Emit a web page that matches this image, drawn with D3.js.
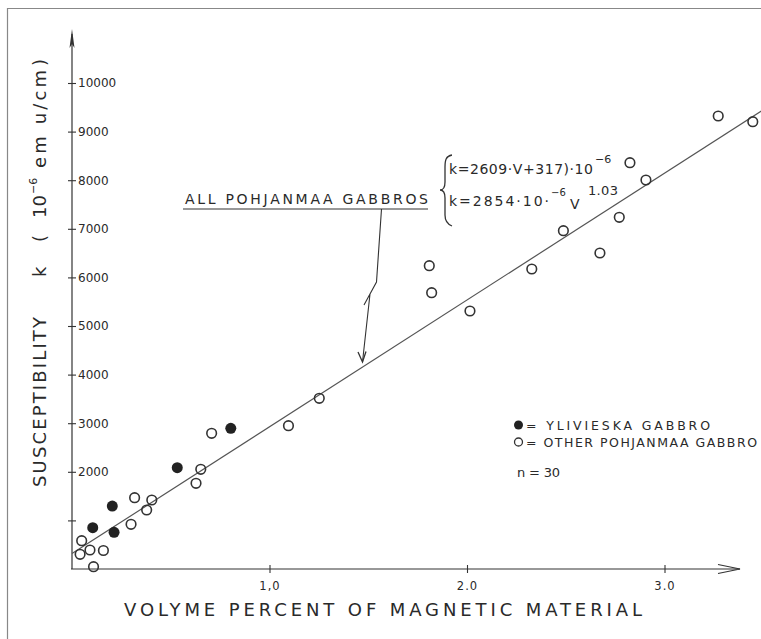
<!DOCTYPE html>
<html lang="en">
<head>
  <meta charset="UTF-8">
  <title>Susceptibility vs magnetic material</title>
  <style>
    body { margin: 0; background: #fff; }
    svg { display: block; font-family: 'DejaVu Sans', sans-serif; }
    .lbl { fill: #2a2a2a; }
  </style>
</head>
<body>
  <div id="chart"></div>
  <script src="https://cdn.jsdelivr.net/npm/d3@7"></script>
  <script>
    // data
    const ylivieskaV = [0.105, 0.204, 0.213, 0.533, 0.804];
    const ylivieskaK = [850, 1296, 755, 2084, 2895];

    const otherV = [0.049, 0.041, 0.091, 0.159, 0.109, 0.299, 0.317, 0.378, 0.404, 0.628,
                    0.652, 0.707, 1.096, 1.252, 1.809, 1.821, 2.015, 2.328, 2.488, 2.673,
                    2.771, 2.825, 2.906, 3.272, 3.447];
    const otherK = [582, 302, 391, 381, 47, 920, 1467, 1214, 1420, 1763,
                    2051, 2792, 2949, 3512, 6241, 5685, 5309, 6173, 6961, 6502,
                    7237, 8360, 8004, 9321, 9204];

    const yTicks = [1000, 2000, 3000, 4000, 5000, 6000, 7000, 8000, 9000, 10000];
    const yTickLabels = ["", "2000", "3000", "4000", "5000", "6000", "7000", "8000", "9000", "10000"];
    const xTicks = [1, 2, 3];
    const xTickLabels = ["1,0", "2.0", "3.0"];

    // regression k = 2609*V + 317
    const fitSlope = 2609, fitIntercept = 317;
    const fitRange = [0, 3.5];

    const W = 761, H = 639;
    const x = d3.scaleLinear().domain([0, 3]).range([72, 664.5]);
    const y = d3.scaleLinear().domain([0, 10000]).range([569, 83]);
    const ink = "#333";

    const svg = d3.select("#chart").append("svg")
      .attr("width", W).attr("height", H);

    // paper frame
    svg.append("path")
      .attr("d", "M7.5,639 L7.5,8.5 L761,8.5")
      .attr("fill", "none").attr("stroke", "#888").attr("stroke-width", 1.2);

    // y axis
    const yAxis = svg.append("g")
      .attr("transform", `translate(${x(0)},0)`)
      .call(d3.axisRight(y).tickValues(yTicks)
        .tickFormat((d, i) => yTickLabels[i]).tickSize(4).tickPadding(2));
    yAxis.select(".domain").remove();
    yAxis.selectAll(".tick line").attr("x1", -4).attr("stroke", ink).attr("stroke-width", 1.1);
    yAxis.selectAll(".tick text").attr("font-size", 12).attr("fill", "#2a2a2a")
      .attr("font-family", "'DejaVu Sans', sans-serif");

    svg.append("line")
      .attr("x1", x(0)).attr("y1", y(0)).attr("x2", x(0)).attr("y2", 34)
      .attr("stroke", ink).attr("stroke-width", 1.2);
    svg.append("path")
      .attr("d", `M${x(0)},29 L${x(0) - 2.5},48 L${x(0)},44 L${x(0) + 2.5},48 Z`)
      .attr("fill", ink);

    // x axis
    const xAxis = svg.append("g")
      .attr("transform", `translate(0,${y(0)})`)
      .call(d3.axisBottom(x).tickValues(xTicks)
        .tickFormat((d, i) => xTickLabels[i]).tickSize(4).tickPadding(9));
    xAxis.select(".domain").remove();
    xAxis.selectAll(".tick line").attr("y1", -4).attr("stroke", ink).attr("stroke-width", 1.1);
    xAxis.selectAll(".tick text").attr("font-size", 11.5).attr("fill", "#2a2a2a")
      .attr("letter-spacing", 1)
      .attr("font-family", "'DejaVu Sans', sans-serif");

    svg.append("line")
      .attr("x1", x(0) - 1).attr("y1", y(0)).attr("x2", 740).attr("y2", y(0))
      .attr("stroke", ink).attr("stroke-width", 1.2);
    svg.append("path")
      .attr("d", `M718,${y(0) - 4.5} L740,${y(0)} L718,${y(0) + 4.5}`)
      .attr("fill", "none").attr("stroke", ink).attr("stroke-width", 1.2);

    // fitted line
    svg.append("line")
      .attr("x1", x(fitRange[0])).attr("y1", y(fitSlope * fitRange[0] + fitIntercept))
      .attr("x2", x(fitRange[1])).attr("y2", y(fitSlope * fitRange[1] + fitIntercept))
      .attr("stroke", "#555").attr("stroke-width", 1.2);

    // points
    svg.selectAll(".other").data(otherV).enter().append("circle")
      .attr("class", "other")
      .attr("cx", d => x(d)).attr("cy", (d, i) => y(otherK[i]))
      .attr("r", 4.8).attr("fill", "none").attr("stroke", ink).attr("stroke-width", 1.6);
    svg.selectAll(".yliv").data(ylivieskaV).enter().append("circle")
      .attr("class", "yliv")
      .attr("cx", d => x(d)).attr("cy", (d, i) => y(ylivieskaK[i]))
      .attr("r", 5.5).attr("fill", "#222");

    // axis titles
    svg.append("text").attr("class", "lbl")
      .attr("x", 124).attr("y", 616).attr("font-size", 18)
      .attr("textLength", 518).attr("lengthAdjust", "spacing")
      .text("VOLYME PERCENT OF MAGNETIC MATERIAL");

    const yt = svg.append("g").attr("transform", "translate(46,0) rotate(-90)");
    yt.append("text").attr("class", "lbl").attr("x", -487).attr("y", 0).attr("font-size", 18)
      .attr("textLength", 170).attr("lengthAdjust", "spacing").text("SUSCEPTIBILITY");
    yt.append("text").attr("class", "lbl").attr("x", -277).attr("y", 0).attr("font-size", 18).text("k");
    yt.append("text").attr("class", "lbl").attr("x", -242).attr("y", 0).attr("font-size", 18).text("(");
    yt.append("text").attr("class", "lbl").attr("x", -218).attr("y", 0).attr("font-size", 18).text("10");
    yt.append("text").attr("class", "lbl").attr("x", -194).attr("y", -9).attr("font-size", 11).text("−6");
    yt.append("text").attr("class", "lbl").attr("x", -168).attr("y", 0).attr("font-size", 18)
      .attr("textLength", 98).attr("lengthAdjust", "spacing").text("em u/cm");
    yt.append("text").attr("class", "lbl").attr("x", -66).attr("y", 0).attr("font-size", 18).text(")");

    // annotation
    svg.append("text").attr("class", "lbl")
      .attr("x", 185).attr("y", 204).attr("font-size", 14)
      .attr("textLength", 243).attr("lengthAdjust", "spacing")
      .text("ALL POHJANMAA GABBROS");
    svg.append("line").attr("x1", 183).attr("y1", 209).attr("x2", 428).attr("y2", 209)
      .attr("stroke", ink).attr("stroke-width", 1.1);
    svg.append("path")
      .attr("d", "M381.5,209 L376.5,282 L364,305 L370,294 L362.5,362")
      .attr("fill", "none").attr("stroke", ink).attr("stroke-width", 1.1);
    svg.append("path")
      .attr("d", "M358,352 L362.5,362 L366,351.5")
      .attr("fill", "none").attr("stroke", ink).attr("stroke-width", 1.3);

    // brace and equations
    svg.append("path")
      .attr("d", "M452,155 C446,156 445,160 445,167 L445,182 C445,187 443,190 440,190 " +
                 "C443,190 445,193 445,198 L445,215 C445,221 447,224 452,226")
      .attr("fill", "none").attr("stroke", ink).attr("stroke-width", 1.3);

    svg.append("text").attr("class", "lbl").attr("x", 449).attr("y", 174).attr("font-size", 14)
      .attr("textLength", 144).attr("lengthAdjust", "spacing").text("k=2609·V+317)·10");
    svg.append("text").attr("class", "lbl").attr("x", 595).attr("y", 163).attr("font-size", 11)
      .text("−6");
    svg.append("text").attr("class", "lbl").attr("x", 449).attr("y", 206).attr("font-size", 14)
      .attr("textLength", 100).attr("lengthAdjust", "spacing").text("k=2854·10·");
    svg.append("text").attr("class", "lbl").attr("x", 551).attr("y", 196).attr("font-size", 10)
      .text("−6");
    svg.append("text").attr("class", "lbl").attr("x", 570).attr("y", 209).attr("font-size", 14)
      .text("V");
    svg.append("text").attr("class", "lbl").attr("x", 588).attr("y", 195).attr("font-size", 13)
      .attr("textLength", 30).attr("lengthAdjust", "spacing").text("1.03");

    // legend
    svg.append("circle").attr("cx", 518.5).attr("cy", 425).attr("r", 4.5).attr("fill", "#222");
    svg.append("text").attr("class", "lbl").attr("x", 526).attr("y", 429.5).attr("font-size", 12.5)
      .attr("textLength", 184).attr("lengthAdjust", "spacing").text("= YLIVIESKA  GABBRO");
    svg.append("circle").attr("cx", 518.5).attr("cy", 442).attr("r", 4).attr("fill", "none")
      .attr("stroke", ink).attr("stroke-width", 1.3);
    svg.append("text").attr("class", "lbl").attr("x", 526).attr("y", 446.5).attr("font-size", 12.5)
      .attr("textLength", 231).attr("lengthAdjust", "spacing").text("= OTHER POHJANMAA GABBRO");
    svg.append("text").attr("class", "lbl").attr("x", 517).attr("y", 477).attr("font-size", 13)
      .attr("textLength", 43).attr("lengthAdjust", "spacing").text("n = 30");
  </script>
</body>
</html>
